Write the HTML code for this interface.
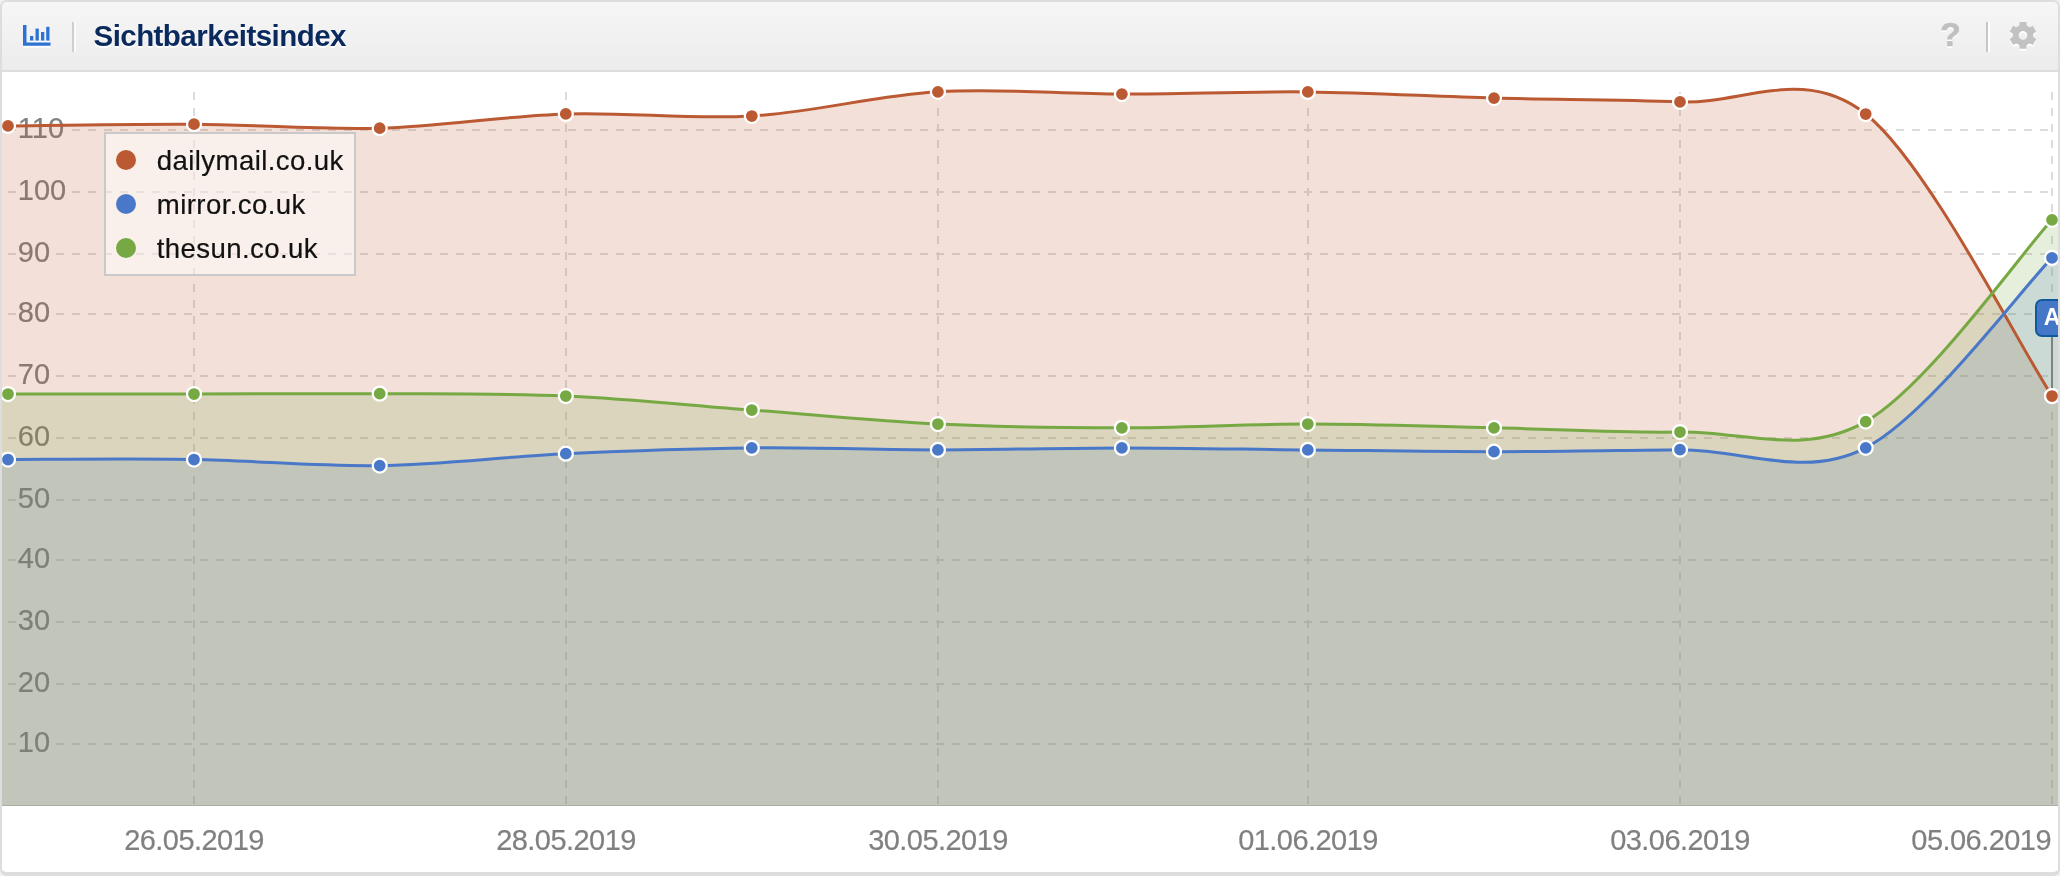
<!DOCTYPE html>
<html lang="de">
<head>
<meta charset="utf-8">
<title>Sichtbarkeitsindex</title>
<style>
html,body{margin:0;padding:0;}
body{width:2060px;height:876px;overflow:hidden;background:#f0f0f0;font-family:"Liberation Sans",Arial,sans-serif;}
#panel{will-change:transform;position:absolute;left:0;top:0;width:2060px;height:876px;box-sizing:border-box;border:2px solid #dddddd;border-bottom-width:4px;border-radius:7px;background:#fff;overflow:hidden;}
#inner{position:absolute;left:-2px;top:-2px;width:2060px;height:876px;}
#header{position:absolute;left:2px;top:2px;width:2056px;height:68px;background:linear-gradient(to bottom,#f6f6f6 0%,#ececec 100%);border-bottom:2px solid #dddddd;}
#title{position:absolute;left:93.5px;top:18px;font-size:29.5px;line-height:36px;font-weight:bold;color:#0a2a5e;text-shadow:0 2px 0 #fff;white-space:nowrap;letter-spacing:-0.55px;}
#help{position:absolute;left:1940.3px;top:15px;width:20px;text-align:center;font-size:33.5px;line-height:40px;font-weight:bold;color:#c0c0c0;-webkit-text-stroke:0.7px #c0c0c0;text-shadow:0 2px 0 #fff;}
</style>
</head>
<body>
<div id="panel"><div id="inner">
<div id="header"></div>
<svg width="2060" height="876" viewBox="0 0 2060 876" style="position:absolute;left:0;top:0">
<g stroke="#dcdcdc" stroke-width="2" stroke-dasharray="8 8" fill="none">
<path d="M8 130 H2052"/>
<path d="M8 192 H2052"/>
<path d="M8 254 H2052"/>
<path d="M8 314 H2052"/>
<path d="M8 376 H2052"/>
<path d="M8 438 H2052"/>
<path d="M8 500 H2052"/>
<path d="M8 560 H2052"/>
<path d="M8 622 H2052"/>
<path d="M8 684 H2052"/>
<path d="M8 744 H2052"/>
<path d="M194 92 V806"/>
<path d="M566 92 V806"/>
<path d="M938 92 V806"/>
<path d="M1308 92 V806"/>
<path d="M1680 92 V806"/>
<path d="M2052 92 V806"/>
</g>
<g font-family="'Liberation Sans', Arial, sans-serif" font-size="29" fill="#808080" stroke="#808080" stroke-width="0.2">
<rect x="16.5" y="114" width="49.39" height="30" fill="#fff" stroke="none"/>
<text x="17.8" y="138.2">110</text>
<rect x="16.5" y="176" width="49.39" height="30" fill="#fff" stroke="none"/>
<text x="17.8" y="200.2">100</text>
<rect x="16.5" y="238" width="33.26" height="30" fill="#fff" stroke="none"/>
<text x="17.8" y="262.2">90</text>
<rect x="16.5" y="298" width="33.26" height="30" fill="#fff" stroke="none"/>
<text x="17.8" y="322.2">80</text>
<rect x="16.5" y="360" width="33.26" height="30" fill="#fff" stroke="none"/>
<text x="17.8" y="384.2">70</text>
<rect x="16.5" y="422" width="33.26" height="30" fill="#fff" stroke="none"/>
<text x="17.8" y="446.2">60</text>
<rect x="16.5" y="484" width="33.26" height="30" fill="#fff" stroke="none"/>
<text x="17.8" y="508.2">50</text>
<rect x="16.5" y="544" width="33.26" height="30" fill="#fff" stroke="none"/>
<text x="17.8" y="568.2">40</text>
<rect x="16.5" y="606" width="33.26" height="30" fill="#fff" stroke="none"/>
<text x="17.8" y="630.2">30</text>
<rect x="16.5" y="668" width="33.26" height="30" fill="#fff" stroke="none"/>
<text x="17.8" y="692.2">20</text>
<rect x="16.5" y="728" width="33.26" height="30" fill="#fff" stroke="none"/>
<text x="17.8" y="752.2">10</text>
</g>
<rect x="2" y="805" width="2056" height="1" fill="#8a8a8a" fill-opacity="0.35"/>
<path d="M2 806 L2 125.9 L8 125.9C39 125.62 132.05 123.82 194 124.2C255.95 124.58 317.73 129.92 379.7 128.2C441.67 126.48 503.78 115.93 565.8 113.9C627.82 111.87 689.78 119.68 751.8 116C813.82 112.32 876.22 95.45 937.9 91.8C999.58 88.15 1060.25 94.08 1121.9 94.1C1183.55 94.12 1245.78 91.23 1307.8 91.9C1369.82 92.57 1431.97 96.43 1494 98.1C1556.03 99.77 1618.05 99.25 1680 101.9C1741.95 104.55 1803.7 64.98 1865.7 114C1927.7 163.02 2020.95 349 2052 396 L2058 396 L2058 806 Z" fill="#bb5933" fill-opacity="0.185"/>
<path d="M2 806 L2 459.5 L8 459.5C39 459.5 132.05 458.48 194 459.5C255.95 460.52 317.73 466.57 379.7 465.6C441.67 464.63 503.78 456.65 565.8 453.7C627.82 450.75 689.78 448.53 751.8 447.9C813.82 447.27 876.22 449.9 937.9 449.9C999.58 449.9 1060.25 447.9 1121.9 447.9C1183.55 447.9 1245.78 449.27 1307.8 449.9C1369.82 450.53 1431.97 451.73 1494 451.7C1556.03 451.67 1618.05 450.35 1680 449.7C1741.95 449.05 1803.7 479.77 1865.7 447.8C1927.7 415.83 2020.95 289.55 2052 257.9 L2058 257.9 L2058 806 Z" fill="#4a78c9" fill-opacity="0.185"/>
<path d="M2 806 L2 394 L8 394C39 394 132.05 394.05 194 394C255.95 393.95 317.73 393.37 379.7 393.7C441.67 394.03 503.78 393.28 565.8 396C627.82 398.72 689.78 405.33 751.8 410C813.82 414.67 876.22 421.03 937.9 424C999.58 426.97 1060.25 427.8 1121.9 427.8C1183.55 427.8 1245.78 424 1307.8 424C1369.82 424 1431.97 426.47 1494 427.8C1556.03 429.13 1618.05 433.03 1680 432C1741.95 430.97 1803.7 456.97 1865.7 421.6C1927.7 386.23 2020.95 253.43 2052 219.8 L2058 219.8 L2058 806 Z" fill="#76a943" fill-opacity="0.185"/>
<path d="M8 125.9C39 125.62 132.05 123.82 194 124.2C255.95 124.58 317.73 129.92 379.7 128.2C441.67 126.48 503.78 115.93 565.8 113.9C627.82 111.87 689.78 119.68 751.8 116C813.82 112.32 876.22 95.45 937.9 91.8C999.58 88.15 1060.25 94.08 1121.9 94.1C1183.55 94.12 1245.78 91.23 1307.8 91.9C1369.82 92.57 1431.97 96.43 1494 98.1C1556.03 99.77 1618.05 99.25 1680 101.9C1741.95 104.55 1803.7 64.98 1865.7 114C1927.7 163.02 2020.95 349 2052 396" fill="none" stroke="#bb5933" stroke-width="3" stroke-linejoin="round" stroke-linecap="round"/>
<path d="M8 459.5C39 459.5 132.05 458.48 194 459.5C255.95 460.52 317.73 466.57 379.7 465.6C441.67 464.63 503.78 456.65 565.8 453.7C627.82 450.75 689.78 448.53 751.8 447.9C813.82 447.27 876.22 449.9 937.9 449.9C999.58 449.9 1060.25 447.9 1121.9 447.9C1183.55 447.9 1245.78 449.27 1307.8 449.9C1369.82 450.53 1431.97 451.73 1494 451.7C1556.03 451.67 1618.05 450.35 1680 449.7C1741.95 449.05 1803.7 479.77 1865.7 447.8C1927.7 415.83 2020.95 289.55 2052 257.9" fill="none" stroke="#4a78c9" stroke-width="3" stroke-linejoin="round" stroke-linecap="round"/>
<path d="M8 394C39 394 132.05 394.05 194 394C255.95 393.95 317.73 393.37 379.7 393.7C441.67 394.03 503.78 393.28 565.8 396C627.82 398.72 689.78 405.33 751.8 410C813.82 414.67 876.22 421.03 937.9 424C999.58 426.97 1060.25 427.8 1121.9 427.8C1183.55 427.8 1245.78 424 1307.8 424C1369.82 424 1431.97 426.47 1494 427.8C1556.03 429.13 1618.05 433.03 1680 432C1741.95 430.97 1803.7 456.97 1865.7 421.6C1927.7 386.23 2020.95 253.43 2052 219.8" fill="none" stroke="#76a943" stroke-width="3" stroke-linejoin="round" stroke-linecap="round"/>
<circle cx="8" cy="125.9" r="7" fill="#bb5933" stroke="#fff" stroke-width="2.25"/>
<circle cx="194" cy="124.2" r="7" fill="#bb5933" stroke="#fff" stroke-width="2.25"/>
<circle cx="379.7" cy="128.2" r="7" fill="#bb5933" stroke="#fff" stroke-width="2.25"/>
<circle cx="565.8" cy="113.9" r="7" fill="#bb5933" stroke="#fff" stroke-width="2.25"/>
<circle cx="751.8" cy="116" r="7" fill="#bb5933" stroke="#fff" stroke-width="2.25"/>
<circle cx="937.9" cy="91.8" r="7" fill="#bb5933" stroke="#fff" stroke-width="2.25"/>
<circle cx="1121.9" cy="94.1" r="7" fill="#bb5933" stroke="#fff" stroke-width="2.25"/>
<circle cx="1307.8" cy="91.9" r="7" fill="#bb5933" stroke="#fff" stroke-width="2.25"/>
<circle cx="1494" cy="98.1" r="7" fill="#bb5933" stroke="#fff" stroke-width="2.25"/>
<circle cx="1680" cy="101.9" r="7" fill="#bb5933" stroke="#fff" stroke-width="2.25"/>
<circle cx="1865.7" cy="114" r="7" fill="#bb5933" stroke="#fff" stroke-width="2.25"/>
<circle cx="2052" cy="396" r="7" fill="#bb5933" stroke="#fff" stroke-width="2.25"/>
<circle cx="8" cy="459.5" r="7" fill="#4a78c9" stroke="#fff" stroke-width="2.25"/>
<circle cx="194" cy="459.5" r="7" fill="#4a78c9" stroke="#fff" stroke-width="2.25"/>
<circle cx="379.7" cy="465.6" r="7" fill="#4a78c9" stroke="#fff" stroke-width="2.25"/>
<circle cx="565.8" cy="453.7" r="7" fill="#4a78c9" stroke="#fff" stroke-width="2.25"/>
<circle cx="751.8" cy="447.9" r="7" fill="#4a78c9" stroke="#fff" stroke-width="2.25"/>
<circle cx="937.9" cy="449.9" r="7" fill="#4a78c9" stroke="#fff" stroke-width="2.25"/>
<circle cx="1121.9" cy="447.9" r="7" fill="#4a78c9" stroke="#fff" stroke-width="2.25"/>
<circle cx="1307.8" cy="449.9" r="7" fill="#4a78c9" stroke="#fff" stroke-width="2.25"/>
<circle cx="1494" cy="451.7" r="7" fill="#4a78c9" stroke="#fff" stroke-width="2.25"/>
<circle cx="1680" cy="449.7" r="7" fill="#4a78c9" stroke="#fff" stroke-width="2.25"/>
<circle cx="1865.7" cy="447.8" r="7" fill="#4a78c9" stroke="#fff" stroke-width="2.25"/>
<circle cx="2052" cy="257.9" r="7" fill="#4a78c9" stroke="#fff" stroke-width="2.25"/>
<circle cx="8" cy="394" r="7" fill="#76a943" stroke="#fff" stroke-width="2.25"/>
<circle cx="194" cy="394" r="7" fill="#76a943" stroke="#fff" stroke-width="2.25"/>
<circle cx="379.7" cy="393.7" r="7" fill="#76a943" stroke="#fff" stroke-width="2.25"/>
<circle cx="565.8" cy="396" r="7" fill="#76a943" stroke="#fff" stroke-width="2.25"/>
<circle cx="751.8" cy="410" r="7" fill="#76a943" stroke="#fff" stroke-width="2.25"/>
<circle cx="937.9" cy="424" r="7" fill="#76a943" stroke="#fff" stroke-width="2.25"/>
<circle cx="1121.9" cy="427.8" r="7" fill="#76a943" stroke="#fff" stroke-width="2.25"/>
<circle cx="1307.8" cy="424" r="7" fill="#76a943" stroke="#fff" stroke-width="2.25"/>
<circle cx="1494" cy="427.8" r="7" fill="#76a943" stroke="#fff" stroke-width="2.25"/>
<circle cx="1680" cy="432" r="7" fill="#76a943" stroke="#fff" stroke-width="2.25"/>
<circle cx="1865.7" cy="421.6" r="7" fill="#76a943" stroke="#fff" stroke-width="2.25"/>
<circle cx="2052" cy="219.8" r="7" fill="#76a943" stroke="#fff" stroke-width="2.25"/>
<path d="M2052 337 V390" stroke="#808080" stroke-width="2" fill="none"/>
<rect x="2036" y="300" width="34" height="36" rx="6" ry="6" fill="#4577c9" stroke="#0f5a9f" stroke-width="2"/>
<text x="2052" y="325" text-anchor="middle" font-family="'Liberation Sans', Arial, sans-serif" font-weight="bold" font-size="23" fill="#fff">A</text>
<circle cx="2052" cy="396" r="7" fill="#bb5933" stroke="#fff" stroke-width="2.25"/>
<rect x="105" y="133" width="250" height="142" fill="#fff" fill-opacity="0.5" stroke="#c9c9c9" stroke-width="2"/>
<g font-family="'Liberation Sans', Arial, sans-serif" font-size="27.6" letter-spacing="0.4" fill="#111" stroke="#111" stroke-width="0.2">
<circle cx="126" cy="160" r="10" fill="#bb5933" stroke="none"/>
<text x="156.8" y="170">dailymail.co.uk</text>
<circle cx="126" cy="204" r="10" fill="#4a78c9" stroke="none"/>
<text x="156.8" y="214">mirror.co.uk</text>
<circle cx="126" cy="248" r="10" fill="#76a943" stroke="none"/>
<text x="156.8" y="258">thesun.co.uk</text>
</g>
<g font-family="'Liberation Sans', Arial, sans-serif" font-size="29" letter-spacing="-0.55" fill="#808080" stroke="#808080" stroke-width="0.2" text-anchor="middle">
<text x="194" y="850">26.05.2019</text>
<text x="566" y="850">28.05.2019</text>
<text x="938" y="850">30.05.2019</text>
<text x="1308" y="850">01.06.2019</text>
<text x="1680" y="850">03.06.2019</text>
<text x="2051" y="850" text-anchor="end">05.06.2019</text>
</g>
</svg>
<svg width="2060" height="72" viewBox="0 0 2060 72" style="position:absolute;left:0;top:0">
<g fill="#ffffff" transform="translate(0 2)"><path d="M23 25 H26.5 V42.5 H50.5 V45.8 H23 Z"/><rect x="30" y="36" width="3.3" height="4.6"/><rect x="35.5" y="28.6" width="3.3" height="12"/><rect x="41" y="32" width="3.3" height="8.6"/><rect x="46.2" y="26.8" width="3.3" height="13.8"/></g>
<g fill="#2b72d3" transform="translate(0 0)"><path d="M23 25 H26.5 V42.5 H50.5 V45.8 H23 Z"/><rect x="30" y="36" width="3.3" height="4.6"/><rect x="35.5" y="28.6" width="3.3" height="12"/><rect x="41" y="32" width="3.3" height="8.6"/><rect x="46.2" y="26.8" width="3.3" height="13.8"/></g>
<rect x="72" y="22" width="2" height="30" fill="#cfcfcf"/><rect x="74" y="22" width="2" height="30" fill="#fafafa"/>
<rect x="1986" y="22" width="2" height="30" fill="#c6c6c6"/><rect x="1988" y="22" width="2" height="30" fill="#ffffff"/>
<path d="M2019.45 25.1L2019.6 22.1 L2026.4 22.1 L2026.55 25.1Q2027.75 27.17 2030.15 27.18L2032.82 25.81 L2036.22 31.69 L2033.7 33.32Q2032.5 35.4 2033.7 37.48L2036.22 39.11 L2032.82 44.99 L2030.15 43.62Q2027.75 43.63 2026.55 45.7L2026.4 48.7 L2019.6 48.7 L2019.45 45.7Q2018.25 43.63 2015.85 43.62L2013.18 44.99 L2009.78 39.11 L2012.3 37.48Q2013.5 35.4 2012.3 33.32L2009.78 31.69 L2013.18 25.81 L2015.85 27.18Q2018.25 27.17 2019.45 25.1ZM2027.3 35.4 A4.3 4.3 0 1 0 2018.7 35.4 A4.3 4.3 0 1 0 2027.3 35.4 Z" fill="#fff" fill-rule="evenodd" transform="translate(0 2)"/>
<path d="M2019.45 25.1L2019.6 22.1 L2026.4 22.1 L2026.55 25.1Q2027.75 27.17 2030.15 27.18L2032.82 25.81 L2036.22 31.69 L2033.7 33.32Q2032.5 35.4 2033.7 37.48L2036.22 39.11 L2032.82 44.99 L2030.15 43.62Q2027.75 43.63 2026.55 45.7L2026.4 48.7 L2019.6 48.7 L2019.45 45.7Q2018.25 43.63 2015.85 43.62L2013.18 44.99 L2009.78 39.11 L2012.3 37.48Q2013.5 35.4 2012.3 33.32L2009.78 31.69 L2013.18 25.81 L2015.85 27.18Q2018.25 27.17 2019.45 25.1ZM2027.3 35.4 A4.3 4.3 0 1 0 2018.7 35.4 A4.3 4.3 0 1 0 2027.3 35.4 Z" fill="#c2c2c2" fill-rule="evenodd"/>
</svg>
<div id="title">Sichtbarkeitsindex</div>
<div id="help">?</div>
</div></div>
</body>
</html>
